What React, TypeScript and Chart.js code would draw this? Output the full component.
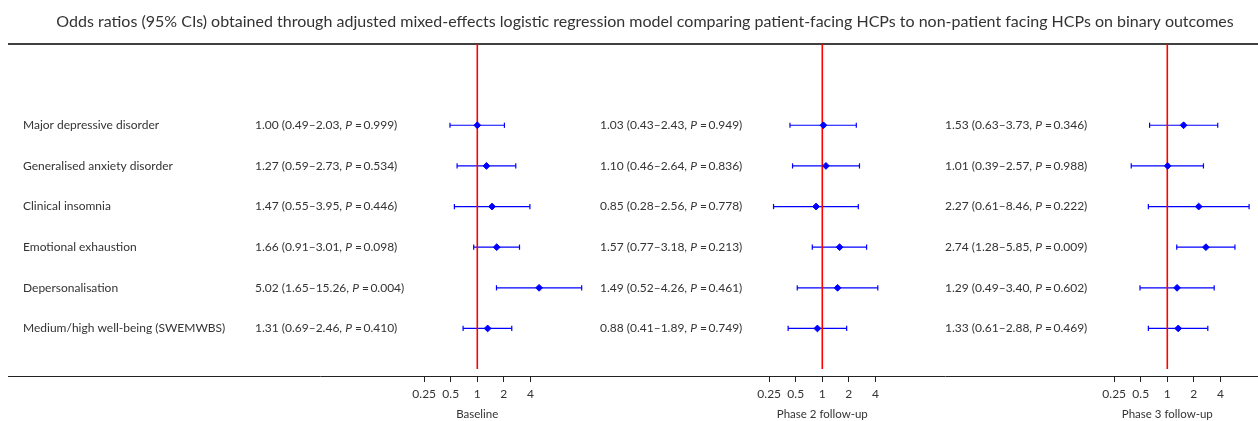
import React, { useEffect, useRef } from "react";
import { Chart, registerables } from "chart.js";

Chart.register(...registerables);

const FONT = "Lato, 'Open Sans', sans-serif";
const TITLE =
  "Odds ratios (95% CIs) obtained through adjusted mixed-effects logistic regression model comparing patient-facing HCPs to non-patient facing HCPs on binary outcomes";

const outcomes = [
  "Major depressive disorder",
  "Generalised anxiety disorder",
  "Clinical insomnia",
  "Emotional exhaustion",
  "Depersonalisation",
  "Medium/high well-being (SWEMWBS)",
];

const panelTitles = ["Baseline", "Phase 2 follow-up", "Phase 3 follow-up"];
const tickValues = [0.25, 0.5, 1, 2, 4];
const tickLabels = ["0.25", "0.5", "1", "2", "4"];

const baselineOR = [1.0, 1.27, 1.47, 1.66, 5.02, 1.31];
const baselineLo = [0.49, 0.59, 0.55, 0.91, 1.65, 0.69];
const baselineHi = [2.03, 2.73, 3.95, 3.01, 15.26, 2.46];
const baselineP = ["0.999", "0.534", "0.446", "0.098", "0.004", "0.410"];

const phase2OR = [1.03, 1.1, 0.85, 1.57, 1.49, 0.88];
const phase2Lo = [0.43, 0.46, 0.28, 0.77, 0.52, 0.41];
const phase2Hi = [2.43, 2.64, 2.56, 3.18, 4.26, 1.89];
const phase2P = ["0.949", "0.836", "0.778", "0.213", "0.461", "0.749"];

const phase3OR = [1.53, 1.01, 2.27, 2.74, 1.29, 1.33];
const phase3Lo = [0.63, 0.39, 0.61, 1.28, 0.49, 0.61];
const phase3Hi = [3.73, 2.57, 8.46, 5.85, 3.4, 2.88];
const phase3P = ["0.346", "0.988", "0.222", "0.009", "0.602", "0.469"];

const panels = [
  { or: baselineOR, lo: baselineLo, hi: baselineHi, p: baselineP },
  { or: phase2OR, lo: phase2Lo, hi: phase2Hi, p: phase2P },
  { or: phase3OR, lo: phase3Lo, hi: phase3Hi, p: phase3P },
];

const X_MIN = Math.pow(2, -9.879);
const X_MAX = Math.pow(2, 3.115);
const Y_TOP = -2;
const Y_BOTTOM = 6.17;
const REF_TOP = -2;
const REF_BOTTOM = 6;

const BLUE = "#0000ff";
const TEXT = "#333333";

const decorPlugin = {
  id: "decor",
  beforeDatasetsDraw(chart: any) {
    const ctx = chart.ctx;
    const area = chart.chartArea;
    ctx.save();
    ctx.strokeStyle = "#000";
    ctx.lineWidth = 1.5;
    ctx.beginPath();
    ctx.moveTo(8, area.top);
    ctx.lineTo(chart.width, area.top);
    ctx.stroke();
    ctx.strokeStyle = "#222";
    ctx.lineWidth = 1;
    ctx.beginPath();
    ctx.moveTo(8, area.bottom + 0.5);
    ctx.lineTo(chart.width, area.bottom + 0.5);
    ctx.stroke();
    ctx.restore();
  },
  afterDraw(chart: any) {
    const ctx = chart.ctx;
    const yScale = chart.scales.y;
    ctx.save();
    ctx.fillStyle = TEXT;
    ctx.textBaseline = "middle";
    ctx.textAlign = "center";
    ctx.font = `16px ${FONT}`;
    ctx.fillText(TITLE, chart.width / 2 + 16, 22);

    const normal = `12px ${FONT}`;
    const italic = `italic 12px ${FONT}`;

    // outcome labels (left column, aligned to the y-axis box's left edge)
    ctx.textAlign = "left";
    ctx.font = normal;
    outcomes.forEach((lab, i) => {
      ctx.fillText(lab, yScale.left, yScale.getPixelForValue(i));
    });

    panels.forEach((pd, k) => {
      const xs = chart.scales["x" + (k + 1)];
      // axis title centred under the null line
      ctx.textAlign = "center";
      ctx.font = `11.5px ${FONT}`;
      ctx.fillText(panelTitles[k], xs.getPixelForValue(1), 414);

      ctx.textAlign = "left";
      const x0 = xs.left + 40;
      pd.or.forEach((v, i) => {
        const yy = yScale.getPixelForValue(i);
        let x = x0;
        const a = `${v.toFixed(2)} (${pd.lo[i].toFixed(2)}–${pd.hi[i].toFixed(2)}, `;
        ctx.font = normal;
        ctx.fillText(a, x, yy);
        x += ctx.measureText(a).width;
        ctx.font = italic;
        ctx.fillText("P", x, yy);
        x += ctx.measureText("P").width;
        ctx.font = normal;
        ctx.fillText(` =\u2009${pd.p[i]})`, x, yy);
      });
    });
    ctx.restore();
  },
};

function xAxis(_k: number) {
  return {
    type: "logarithmic",
    position: "bottom",
    stack: "panels",
    stackWeight: 1,
    min: X_MIN,
    max: X_MAX,
    bounds: "data",
    afterBuildTicks: (s: any) => {
      s.ticks = tickValues.map((v) => ({ value: v }));
    },
    afterFit: (s: any) => {
      s.height = 45;
    },
    ticks: {
      autoSkip: false,
      maxRotation: 0,
      padding: 5,
      color: TEXT,
      font: { size: 12, family: FONT },
      callback: (_v: any, i: number) => tickLabels[i],
    },
    grid: {
      drawOnChartArea: false,
      drawTicks: true,
      tickLength: 6,
      color: "#222",
      lineWidth: 1,
    },
    border: { display: false },
    title: { display: false },
  };
}

export default function App() {
  const ref = useRef<HTMLCanvasElement>(null);

  useEffect(() => {
    if (!ref.current) return;
    const datasets: any[] = [];
    panels.forEach((pd, k) => {
      const xid = "x" + (k + 1);
      pd.or.forEach((_v, i) => {
        datasets.push({
          type: "line",
          data: [
            { x: pd.lo[i], y: i },
            { x: pd.hi[i], y: i },
          ],
          xAxisID: xid,
          yAxisID: "y",
          borderColor: BLUE,
          borderWidth: 1.2,
          pointStyle: "line",
          pointRotation: 90,
          pointRadius: 2.6,
          pointBorderColor: BLUE,
          pointBorderWidth: 1.2,
          order: 2,
          clip: false,
        });
      });
      datasets.push({
        type: "line",
        data: [
          { x: 1, y: REF_TOP },
          { x: 1, y: REF_BOTTOM },
        ],
        xAxisID: xid,
        yAxisID: "y",
        borderColor: "#ff0000",
        borderWidth: 1.6,
        pointRadius: 0,
        order: 1,
        clip: false,
      });
      datasets.push({
        type: "scatter",
        data: pd.or.map((v, i) => ({ x: v, y: i })),
        xAxisID: xid,
        yAxisID: "y",
        pointStyle: "rectRot",
        pointRadius: 3.4,
        backgroundColor: BLUE,
        borderColor: BLUE,
        borderWidth: 1,
        order: 0,
        clip: false,
      });
    });

    const chart = new Chart(ref.current, {
      type: "scatter",
      data: { datasets },
      options: {
        responsive: false,
        animation: false,
        events: [],
        layout: { padding: { top: 44, left: 23, right: 8, bottom: 0 } },
        plugins: {
          legend: { display: false },
          tooltip: { enabled: false },
          title: { display: false },
        },
        scales: {
          x1: xAxis(0),
          x2: xAxis(1),
          x3: xAxis(2),
          y: {
            type: "linear",
            position: "left",
            reverse: true,
            min: Y_TOP,
            max: Y_BOTTOM,
            afterBuildTicks: (s: any) => {
              s.ticks = outcomes.map((_o, i) => ({ value: i }));
            },
            afterFit: (s: any) => {
              s.width = 192;
            },
            ticks: { display: false },
            grid: { display: false },
            border: { display: false },
          },
        },
      } as any,
      plugins: [decorPlugin],
    });
    return () => chart.destroy();
  }, []);

  return (
    <div style={{ position: "absolute", left: 0, top: 0, width: 1258, height: 421, background: "#fff" }}>
      <canvas ref={ref} width={1258} height={421} style={{ width: 1258, height: 421, display: "block" }} />
    </div>
  );
}
